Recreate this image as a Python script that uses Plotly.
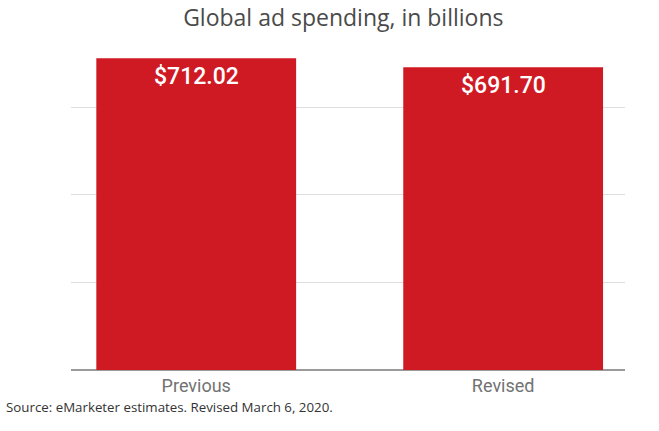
import plotly.graph_objects as go

# data
categories = ["Previous", "Revised"]
spending = [712.02, 691.70]
value_labels = ["$712.02", "$691.70"]

title_text = "Global ad spending, in billions"
source_text = "Source: eMarketer estimates. Revised March 6, 2020."

BAR_RED = "#cf1a24"

fig = go.Figure()
fig.add_trace(go.Bar(
    x=categories, y=spending,
    marker=dict(color=BAR_RED, line=dict(width=0)),
    width=0.651,
    hoverinfo="skip",
))

# value labels sit just under the top of each bar
for cat, val, lab in zip(categories, spending, value_labels):
    fig.add_annotation(
        x=cat, y=val, text=lab, showarrow=False,
        yanchor="top", yshift=-3,
        font=dict(family="Roboto", size=23, color="white", weight=500),
    )

fig.add_annotation(
    x=0, y=0, xref="paper", yref="paper", xanchor="left", yanchor="top",
    text=source_text, showarrow=False, xshift=-67, yshift=-26,
    font=dict(family="Open Sans", size=13.3, color="#333333"),
)

fig.update_layout(
    width=659, height=431,
    margin=dict(l=71, r=34, t=46, b=61),
    paper_bgcolor="white", plot_bgcolor="white",
    showlegend=False,
    title=dict(text=title_text, x=0.521, xanchor="center", y=1 - 18 / 431, yanchor="middle",
               yref="container",
               font=dict(family="Open Sans", size=23, color="#4a4a4a")),
    xaxis=dict(type="category", range=[-0.408, 1.397], showgrid=False,
               showline=False, ticks="", ticklabelstandoff=3,
               tickfont=dict(family="Roboto", size=18, color="#727272")),
    yaxis=dict(range=[0, 740], dtick=200, showticklabels=False, showgrid=True,
               gridcolor="#dedede", gridwidth=1, zeroline=True,
               zerolinecolor="#9a9a9a", zerolinewidth=2),
)

# drop the default 8px page margin so the figure fills the window
fig.write_html("out.html", config={"displayModeBar": False},
               post_script="document.body.style.margin = '0';")
